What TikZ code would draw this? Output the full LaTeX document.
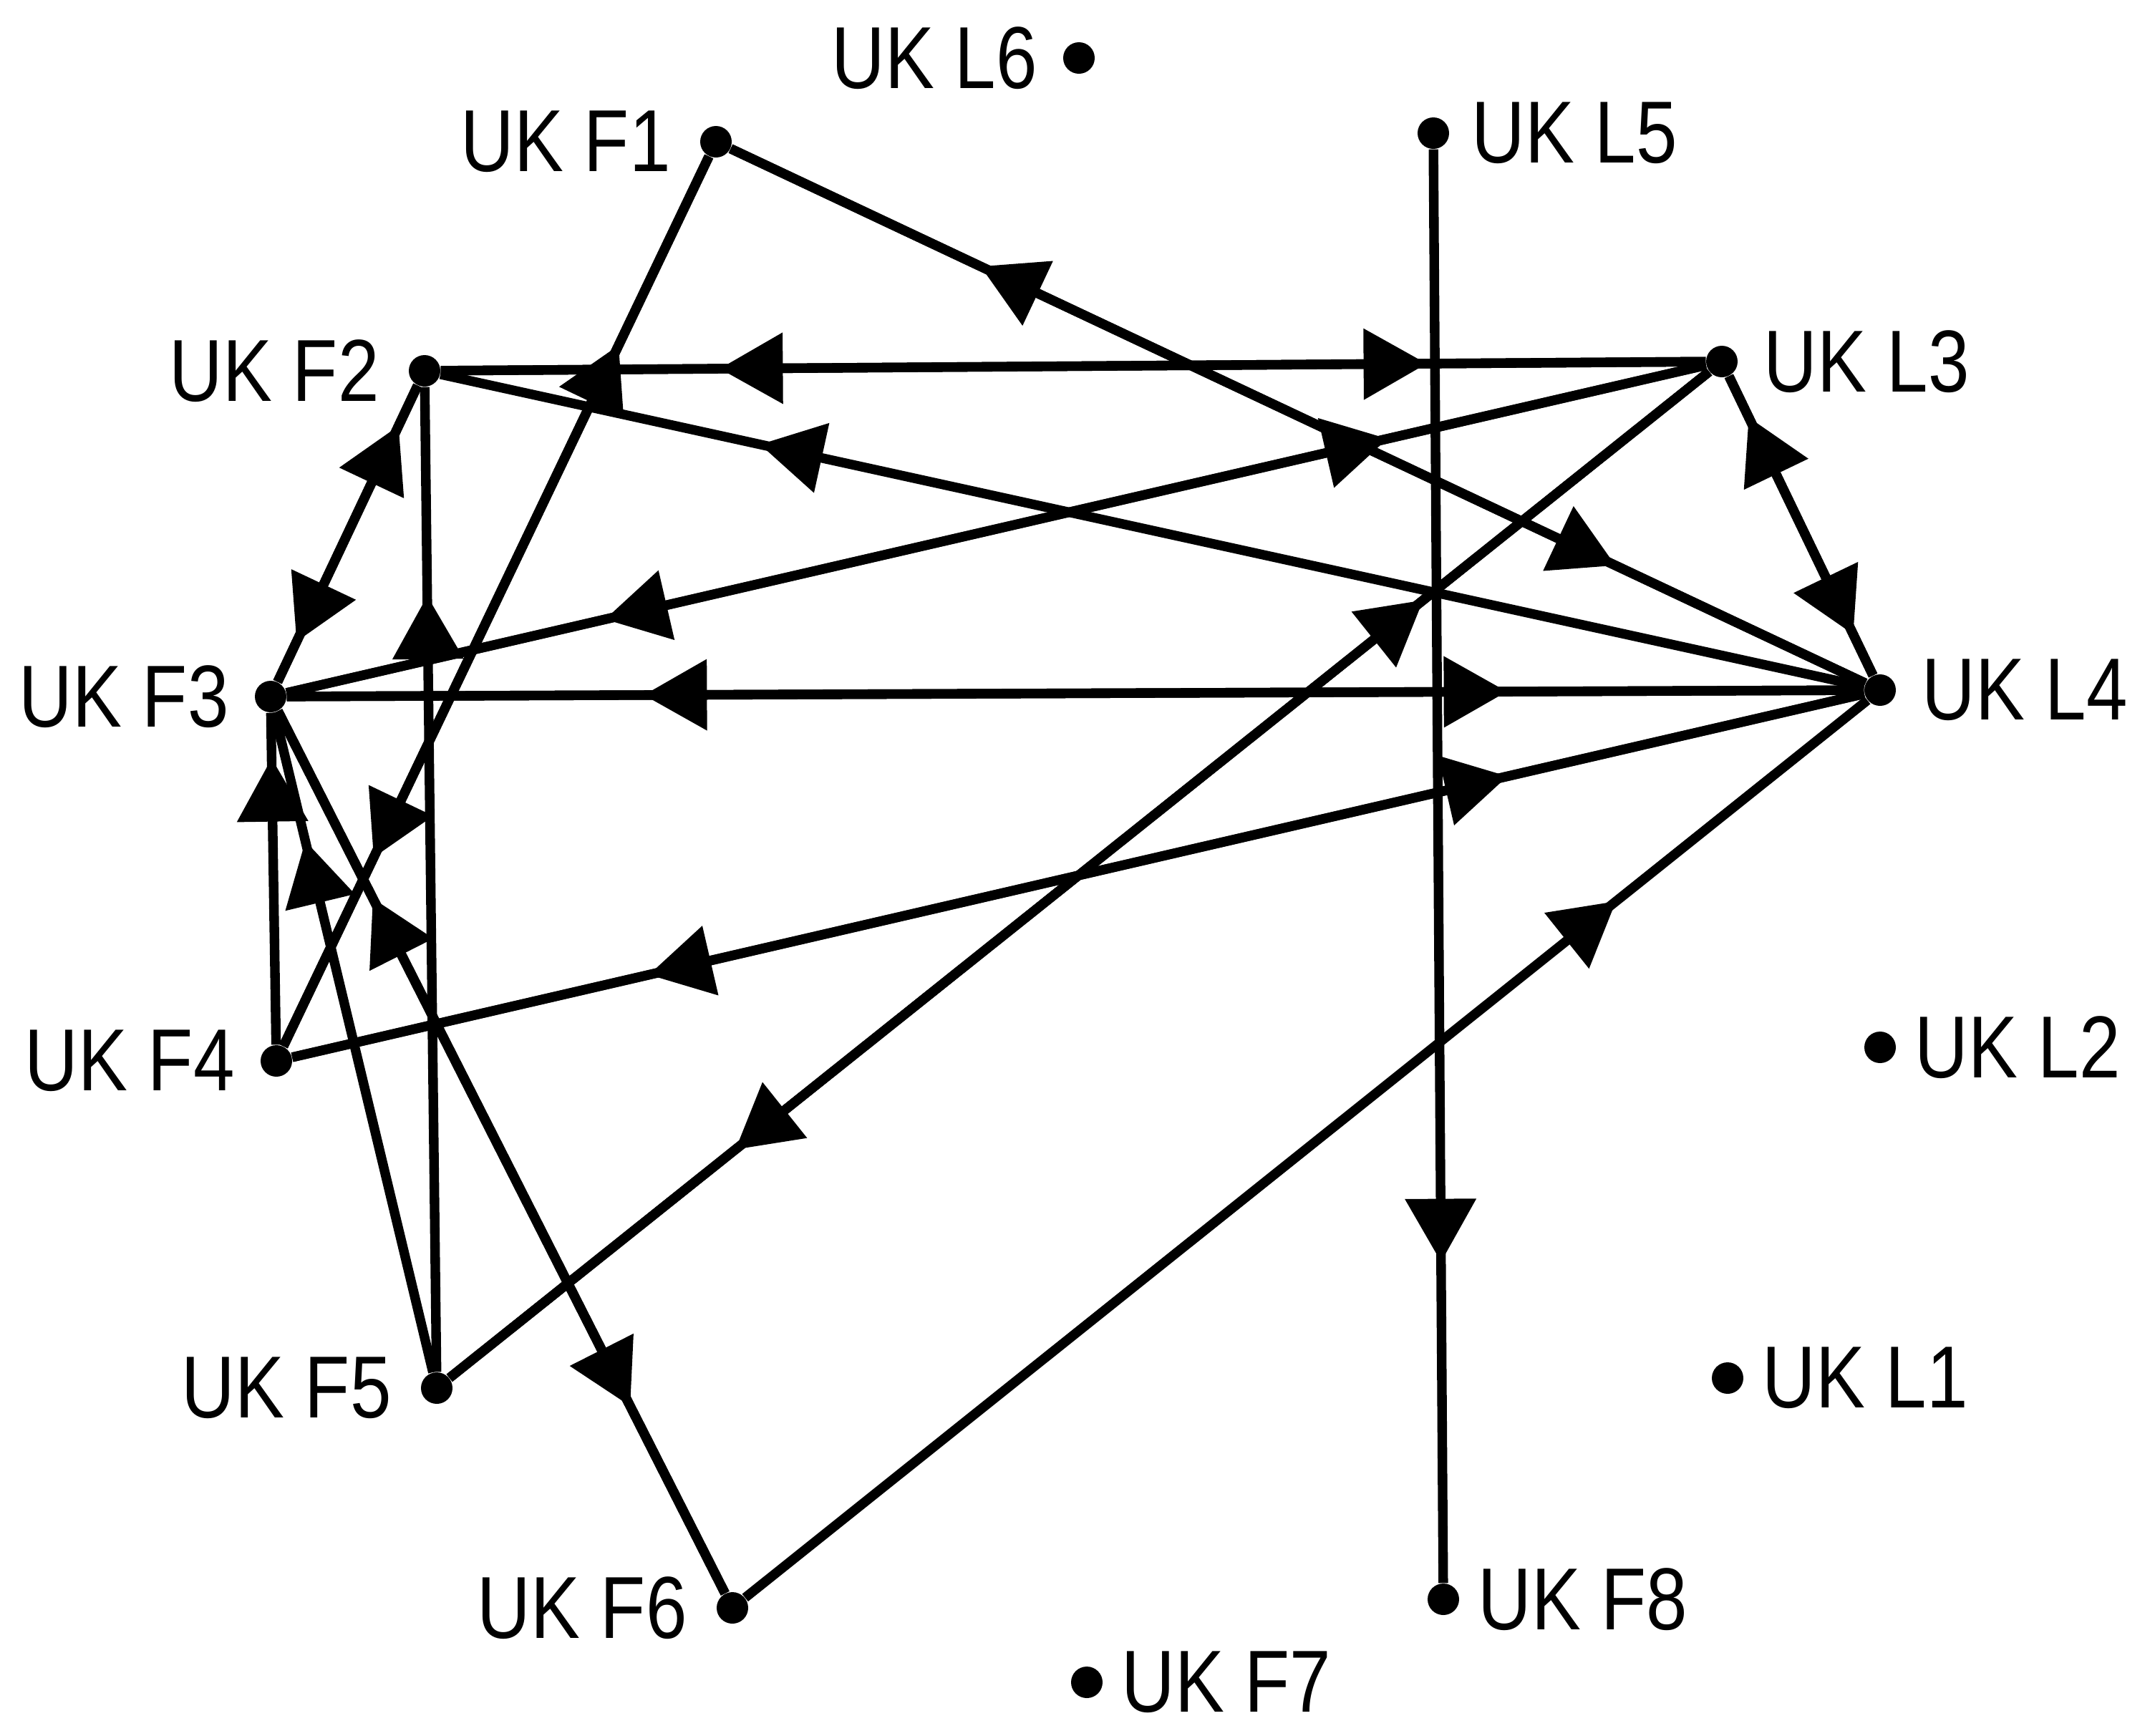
\documentclass[tikz,border=0pt]{standalone}
\usepackage{fontspec}
\setmainfont{Liberation Sans}[FakeStretch=0.84]
\usetikzlibrary{positioning}
\usetikzlibrary{decorations.markings}

\begin{document}
\begin{tikzpicture}[
  dot/.style={circle,fill=black,inner sep=0pt,minimum size=4.4mm},
  lab/.style={inner sep=0pt,font=\fontsize{35}{40}\selectfont},
  flowline/.style={line width=3.8pt,postaction={decorate},
    decoration={markings,mark=at position 0.75 with {\fill (0.52,0) -- (-0.36,0.5) -- (-0.36,-0.5) -- cycle;}}}]
\useasboundingbox (0,0) rectangle (30.10,-24.24);
% points
\node[dot] (L6) at (15.07,-0.81) {};
\node[dot] (F1) at (10.00,-1.98) {};
\node[dot] (L5) at (20.02,-1.86) {};
\node[dot] (F2) at (5.93,-5.18) {};
\node[dot] (L3) at (24.05,-5.05) {};
\node[dot] (F3) at (3.78,-9.73) {};
\node[dot] (L4) at (26.26,-9.64) {};
\node[dot] (F4) at (3.86,-14.82) {};
\node[dot] (L2) at (26.26,-14.63) {};
\node[dot] (F5) at (6.10,-19.39) {};
\node[dot] (L1) at (24.13,-19.25) {};
\node[dot] (F6) at (10.23,-22.46) {};
\node[dot] (F8) at (20.16,-22.34) {};
\node[dot] (F7) at (15.18,-23.50) {};
% names
\node[lab,left=0.35cm of L6] (L6t) {UK L6};
\node[lab,left=0.4cm of F1] (F1t) {UK F1};
\node[lab,right=0.3cm of L5] (L5t) {UK L5};
\node[lab,left=0.4cm of F2] (F2t) {UK F2};
\node[lab,right=0.35cm of L3] (L3t) {UK L3};
\node[lab,left=0.35cm of F3] (F3t) {UK F3};
\node[lab,right=0.35cm of L4] (L4t) {UK L4};
\node[lab,left=0.35cm of F4] (F4t) {UK F4};
\node[lab,right=0.25cm of L2] (L2t) {UK L2};
\node[lab,left=0.4cm of F5] (F5t) {UK F5};
\node[lab,right=0.25cm of L1] (L1t) {UK L1};
\node[lab,left=0.4cm of F6] (F6t) {UK F6};
\node[lab,right=0.25cm of F8] (F8t) {UK F8};
\node[lab,right=0.25cm of F7] (F7t) {UK F7};
% ties
\draw[flowline] (L4) -- (F1);
\draw[flowline] (F1) -- (L4);
\draw[flowline] (F1) -- (F4);
\draw[flowline] (F4) -- (F1);
\draw[flowline] (F2) -- (L3);
\draw[flowline] (L3) -- (F2);
\draw[flowline] (L4) -- (F2);
\draw[flowline] (F5) -- (F2);
\draw[flowline] (F2) -- (F3);
\draw[flowline] (F3) -- (F2);
\draw[flowline] (L3) -- (F3);
\draw[flowline] (F3) -- (L3);
\draw[flowline] (L3) -- (F5);
\draw[flowline] (F5) -- (L3);
\draw[flowline] (L3) -- (L4);
\draw[flowline] (L4) -- (L3);
\draw[flowline] (F3) -- (L4);
\draw[flowline] (L4) -- (F3);
\draw[flowline] (F4) -- (L4);
\draw[flowline] (L4) -- (F4);
\draw[flowline] (F4) -- (F3);
\draw[flowline] (F5) -- (F3);
\draw[flowline] (F3) -- (F6);
\draw[flowline] (F6) -- (F3);
\draw[flowline] (F6) -- (L4);
\draw[flowline] (L5) -- (F8);
\end{tikzpicture}
\end{document}
